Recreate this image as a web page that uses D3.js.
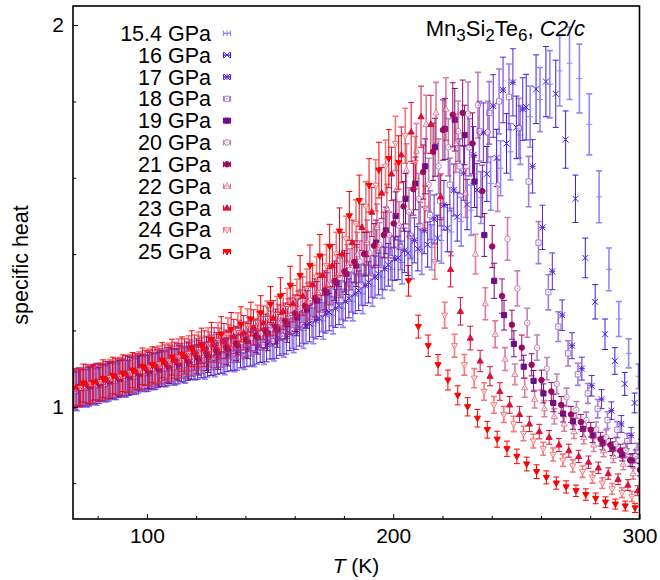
<!DOCTYPE html>
<html>
<head>
<meta charset="utf-8">
<script src="https://cdn.jsdelivr.net/npm/d3@7"></script>
<style>
  body { margin: 0; background: #fff; }
  svg { font-family: "Liberation Sans", Arial, sans-serif; }
</style>
</head>
<body>
<svg id="chart" width="660" height="580"></svg>
<script>
// ---- data ----
const temps = [70,74,78,82,86,90,94,98,102,106,110,114,118,122,126,130,134,138,142,146,
  150,154,158,162,166,170,174,178,182,186,190,194,198,
  202,206,210,214,218,222,226,230,234,238,242,246,250,254,258,262,266,270,274,278,282,286,290,294,298];

// small per-series offset of the temperature grid (K)
const tOffset = [1.6, 0, 2.6, 1.0, 3.0, 0.4, 2.2, 3.4, 1.3, 2.9, 0.2];

const pressures = ["15.4 GPa","16 GPa","17 GPa","18 GPa","19 GPa","20 GPa","21 GPa","22 GPa","23 GPa","24 GPa","25 GPa"];

const cp154 = [1.040,1.048,1.052,1.062,1.066,1.074,1.080,1.086,1.093,1.098,1.104,1.108,1.115,1.118,1.124,1.130,1.137,1.142,1.150,1.156,
  1.165,1.176,1.188,1.200,1.212,1.225,1.240,1.258,1.276,1.296,1.316,1.338,1.360,
  1.378,1.392,1.405,1.418,1.436,1.458,1.485,1.515,1.548,1.585,1.625,1.668,1.712,1.760,1.805,1.845,1.880,1.900,1.860,1.740,1.550,1.360,1.230,1.140,1.080];
const cp16 = [1.045,1.050,1.058,1.063,1.070,1.076,1.082,1.090,1.094,1.100,1.106,1.112,1.116,1.122,1.128,1.133,1.140,1.146,1.152,1.160,
  1.170,1.180,1.193,1.206,1.218,1.232,1.248,1.265,1.284,1.304,1.326,1.348,1.372,
  1.390,1.402,1.414,1.425,1.442,1.468,1.498,1.530,1.568,1.610,1.652,1.690,1.732,1.785,1.832,1.852,1.820,1.700,1.545,1.390,1.275,1.190,1.120,1.060,1.010];
const cp17 = [1.048,1.052,1.056,1.064,1.072,1.076,1.084,1.088,1.096,1.102,1.106,1.114,1.118,1.124,1.130,1.136,1.142,1.150,1.156,1.163,
  1.172,1.184,1.197,1.212,1.226,1.242,1.258,1.276,1.296,1.318,1.340,1.362,1.388,
  1.410,1.436,1.462,1.492,1.528,1.568,1.612,1.660,1.718,1.788,1.830,1.850,1.780,1.630,1.470,1.355,1.240,1.160,1.100,1.055,1.020,0.990,0.955,0.925,0.895];
const cp18 = [1.042,1.050,1.056,1.060,1.068,1.074,1.080,1.088,1.092,1.100,1.104,1.110,1.117,1.122,1.128,1.134,1.140,1.148,1.154,1.162,
  1.172,1.185,1.200,1.214,1.230,1.246,1.262,1.280,1.300,1.320,1.342,1.364,1.390,
  1.418,1.448,1.474,1.502,1.540,1.582,1.630,1.680,1.722,1.770,1.800,1.812,1.730,1.590,1.430,1.300,1.210,1.140,1.085,1.035,0.995,0.965,0.940,0.910,0.885];
const cp19 = [1.050,1.055,1.062,1.068,1.074,1.080,1.088,1.094,1.100,1.108,1.114,1.120,1.128,1.136,1.144,1.152,1.162,1.172,1.182,1.192,
  1.202,1.216,1.234,1.255,1.278,1.300,1.324,1.348,1.370,1.400,1.430,1.462,1.500,
  1.545,1.585,1.630,1.680,1.728,1.752,1.712,1.590,1.450,1.330,1.240,1.165,1.105,1.068,1.035,1.010,0.982,0.962,0.942,0.925,0.905,0.890,0.875,0.860,0.845];
const cp20 = [1.046,1.054,1.060,1.066,1.072,1.080,1.086,1.092,1.100,1.106,1.112,1.120,1.126,1.134,1.142,1.150,1.160,1.170,1.180,1.192,
  1.205,1.220,1.238,1.258,1.278,1.298,1.318,1.338,1.360,1.380,1.402,1.424,1.450,
  1.475,1.510,1.545,1.582,1.630,1.680,1.722,1.768,1.790,1.720,1.580,1.440,1.310,1.220,1.155,1.100,1.060,1.025,0.992,0.965,0.940,0.920,0.902,0.886,0.870];
const cp21 = [1.052,1.056,1.064,1.070,1.076,1.084,1.090,1.096,1.104,1.110,1.118,1.124,1.132,1.140,1.148,1.156,1.166,1.176,1.186,1.198,
  1.210,1.225,1.245,1.265,1.285,1.305,1.330,1.355,1.380,1.400,1.422,1.450,1.480,
  1.525,1.570,1.615,1.668,1.725,1.765,1.770,1.690,1.565,1.420,1.290,1.215,1.155,1.110,1.070,1.040,1.005,0.980,0.960,0.940,0.915,0.900,0.885,0.860,0.835];
const cp22 = [1.048,1.058,1.064,1.072,1.078,1.086,1.092,1.100,1.106,1.114,1.120,1.130,1.140,1.150,1.160,1.170,1.180,1.190,1.204,1.214,
  1.222,1.236,1.255,1.275,1.300,1.320,1.345,1.370,1.400,1.430,1.470,1.520,1.570,
  1.620,1.670,1.740,1.770,1.780,1.690,1.560,1.400,1.270,1.190,1.125,1.085,1.050,1.020,0.995,0.975,0.955,0.935,0.920,0.900,0.885,0.870,0.850,0.825,0.800];
const cp23 = [1.052,1.060,1.066,1.070,1.080,1.086,1.092,1.102,1.108,1.116,1.122,1.132,1.142,1.152,1.162,1.172,1.184,1.194,1.208,1.220,
  1.232,1.250,1.270,1.290,1.320,1.345,1.370,1.400,1.430,1.470,1.510,1.560,1.610,
  1.660,1.720,1.760,1.740,1.550,1.360,1.250,1.180,1.120,1.080,1.040,1.005,0.980,0.955,0.935,0.920,0.900,0.885,0.870,0.855,0.840,0.825,0.810,0.795,0.780];
const cp24 = [1.050,1.060,1.066,1.076,1.080,1.090,1.096,1.104,1.112,1.120,1.130,1.140,1.150,1.162,1.174,1.188,1.200,1.212,1.222,1.232,
  1.242,1.262,1.285,1.310,1.340,1.370,1.400,1.440,1.480,1.525,1.580,1.630,1.690,
  1.710,1.640,1.520,1.380,1.240,1.160,1.110,1.075,1.040,1.005,0.980,0.955,0.930,0.910,0.890,0.875,0.860,0.845,0.830,0.815,0.800,0.785,0.775,0.765,0.755];
const cp25 = [1.048,1.062,1.064,1.074,1.082,1.088,1.096,1.106,1.110,1.122,1.130,1.138,1.152,1.160,1.176,1.190,1.202,1.216,1.230,1.246,
  1.268,1.290,1.318,1.344,1.370,1.395,1.420,1.460,1.500,1.540,1.580,1.620,1.650,
  1.640,1.330,1.210,1.160,1.110,1.070,1.030,1.000,0.970,0.940,0.915,0.890,0.870,0.850,0.830,0.815,0.800,0.790,0.780,0.770,0.760,0.750,0.745,0.740,0.735];

// error bar half-widths
const err154 = [.050,.049,.048,.049,.047,.048,.048,.046,.047,.046,.047,.046,.045,.046,.045,.046,.045,.044,.045,.045,
  .045,.046,.046,.047,.047,.048,.049,.050,.051,.052,.053,.054,.055,
  .056,.057,.058,.059,.060,.062,.064,.066,.068,.070,.072,.074,.077,.080,.084,.088,.092,.095,.090,.080,.068,.056,.046,.038,.032];
const err16 = [.049,.048,.050,.047,.048,.047,.049,.046,.047,.047,.046,.047,.045,.046,.046,.045,.046,.044,.045,.044,
  .045,.045,.046,.047,.048,.048,.049,.050,.051,.052,.054,.055,.056,
  .057,.058,.058,.059,.060,.062,.064,.066,.069,.072,.075,.078,.082,.086,.090,.092,.088,.075,.062,.052,.045,.040,.035,.030,.026];
const err17 = [.048,.050,.047,.049,.048,.046,.048,.047,.046,.047,.046,.045,.046,.046,.045,.044,.046,.045,.044,.045,
  .045,.046,.047,.047,.048,.049,.050,.051,.052,.053,.055,.056,.057,
  .058,.059,.061,.063,.065,.068,.071,.074,.078,.082,.086,.088,.082,.070,.058,.048,.040,.034,.030,.027,.025,.023,.022,.021,.020];
const err18 = [.050,.048,.049,.047,.049,.048,.046,.048,.047,.046,.047,.046,.045,.046,.045,.046,.044,.045,.045,.044,
  .046,.046,.047,.048,.048,.049,.050,.051,.052,.054,.055,.056,.058,
  .059,.060,.062,.064,.066,.069,.072,.075,.078,.082,.085,.086,.078,.066,.055,.046,.039,.033,.029,.026,.024,.022,.021,.020,.019];
const err19 = [.049,.050,.048,.048,.047,.049,.047,.048,.046,.047,.046,.047,.045,.046,.046,.045,.045,.046,.044,.045,
  .046,.047,.048,.049,.050,.051,.052,.054,.055,.057,.059,.061,.063,
  .066,.069,.072,.076,.080,.082,.078,.068,.056,.046,.039,.034,.030,.027,.025,.023,.022,.021,.020,.019,.018,.018,.017,.017,.016];
const err20 = [.048,.049,.050,.047,.048,.047,.048,.046,.048,.046,.047,.045,.046,.047,.045,.046,.044,.045,.046,.044,
  .046,.046,.047,.048,.049,.050,.051,.052,.054,.055,.057,.058,.060,
  .062,.064,.066,.069,.072,.075,.079,.083,.086,.080,.068,.056,.046,.038,.033,.029,.026,.024,.022,.021,.020,.019,.018,.018,.017];
const err21 = [.050,.048,.049,.048,.047,.048,.046,.048,.047,.046,.047,.046,.046,.045,.046,.045,.045,.046,.044,.045,
  .046,.047,.048,.049,.050,.051,.052,.054,.055,.057,.058,.060,.062,
  .065,.068,.071,.075,.079,.084,.086,.080,.068,.055,.045,.038,.033,.029,.026,.024,.022,.021,.020,.019,.018,.017,.017,.016,.016];
const err22 = [.049,.048,.050,.047,.049,.047,.048,.047,.046,.048,.046,.047,.045,.046,.046,.045,.046,.044,.045,.045,
  .046,.047,.048,.049,.050,.052,.053,.055,.057,.059,.061,.063,.066,
  .069,.072,.076,.080,.082,.076,.064,.052,.042,.035,.030,.027,.025,.023,.021,.020,.019,.018,.017,.017,.016,.016,.015,.015,.014];
const err23 = [.048,.050,.048,.049,.047,.048,.047,.046,.048,.046,.047,.046,.046,.047,.045,.046,.045,.045,.046,.044,
  .046,.047,.048,.050,.051,.053,.055,.057,.059,.061,.064,.067,.070,
  .073,.077,.080,.076,.060,.046,.036,.031,.028,.025,.023,.022,.021,.020,.019,.018,.017,.017,.016,.016,.015,.015,.014,.014,.013];
const err24 = [.050,.049,.048,.048,.049,.047,.048,.047,.047,.046,.048,.046,.046,.045,.047,.045,.046,.045,.044,.045,
  .047,.048,.049,.051,.053,.055,.057,.059,.062,.065,.067,.069,.071,
  .072,.068,.058,.046,.034,.030,.027,.025,.023,.022,.021,.020,.019,.018,.017,.017,.016,.016,.015,.015,.014,.014,.013,.013,.012];
const err25 = [.049,.050,.047,.049,.048,.048,.046,.048,.047,.046,.047,.045,.047,.046,.045,.046,.045,.046,.044,.045,
  .047,.048,.050,.052,.054,.056,.058,.061,.064,.067,.070,.073,.076,
  .070,.040,.030,.028,.027,.026,.025,.024,.023,.022,.021,.020,.019,.018,.018,.017,.016,.016,.015,.015,.014,.014,.013,.013,.012];

const xMajor = [100, 200, 300];
const xMinor = [80, 120, 140, 160, 180, 220, 240, 260, 280];
const yMajor = [1, 2];
const yMinor = [0.8, 1.2, 1.4, 1.6, 1.8];

// ---- styles ----
const colors = ["#4a3cf2", "#3a1ee0", "#5a28d2", "#6a28b4", "#6b0f88", "#9a2e90",
                "#9c0c62", "#c8285a", "#dc1038", "#f21c1c", "#ff0000"];
const light = [true, false, false, true, false, true, false, true, false, true, false];
const symbols = ["plus", "cross", "star", "square", "squareFill", "circle",
                 "circleFill", "triangle", "triangleFill", "triDown", "triDownFill"];

const values = [cp154, cp16, cp17, cp18, cp19, cp20, cp21, cp22, cp23, cp24, cp25];
const errors = [err154, err16, err17, err18, err19, err20, err21, err22, err23, err24, err25];

// ---- layout ----
const margin = {top: 6, right: 20.5, bottom: 61, left: 73},
    width = 660 - margin.left - margin.right,
    height = 580 - margin.top - margin.bottom;

const svg = d3.select("#chart");

const x = d3.scaleLinear().domain([70, 300]).range([margin.left, margin.left + width]);
const y = d3.scaleLinear().domain([0.706, 2.05]).range([margin.top + height, margin.top]);

svg.append("defs").append("clipPath").attr("id", "plotClip")
    .append("rect")
    .attr("x", margin.left).attr("y", margin.top)
    .attr("width", width).attr("height", height);

// marker shapes
function markerPath(type) {
    const s = 3;
    switch (type) {
        case "plus": return `M${-s},0H${s}M0,${-s}V${s}`;
        case "cross": return `M${-s},${-s}L${s},${s}M${-s},${s}L${s},${-s}`;
        case "star": return `M${-s},0H${s}M0,${-s}V${s}M${-s},${-s}L${s},${s}M${-s},${s}L${s},${-s}`;
        case "square": case "squareFill": return `M-2.6,-2.6H2.6V2.6H-2.6Z`;
        case "circle": case "circleFill": return d3.symbol(d3.symbolCircle, 24)();
        case "triangle": case "triangleFill": return `M0,-3.3L3.1,2.1H-3.1Z`;
        case "triDown": case "triDownFill": return `M0,3.3L3.1,-2.1H-3.1Z`;
    }
}
const filled = t => t.endsWith("Fill");
const open = t => ["square", "circle", "triangle", "triDown"].includes(t);

function drawMarker(g, type, col) {
    g.append("path")
        .attr("d", markerPath(type))
        .attr("fill", filled(type) ? col : (open(type) ? "#fff" : "none"))
        .attr("stroke", col)
        .attr("stroke-width", 1);
    if (open(type)) {
        g.append("circle").attr("r", 0.7).attr("fill", col);
    }
}

// ---- data marks ----
const plot = svg.append("g").attr("clip-path", "url(#plotClip)");

values.forEach((vals, k) => {
    const col = colors[k];
    const g = plot.append("g").attr("opacity", light[k] ? 0.6 : 1);
    const sw = light[k] ? 1.6 : 1.0;
    const pts = vals.map((v, i) => ({t: temps[i] + tOffset[k], v: v, e: errors[k][i]}));

    g.selectAll("path.bar").data(pts).join("path")
        .attr("class", "bar")
        .attr("d", d => {
            const xx = x(d.t), y1 = y(d.v - d.e), y2 = y(d.v + d.e);
            return `M${xx},${y1}V${y2}M${xx - 3},${y1}H${xx + 3}M${xx - 3},${y2}H${xx + 3}`;
        })
        .attr("fill", "none")
        .attr("stroke", col)
        .attr("stroke-width", sw);

    g.selectAll("g.pt").data(pts).join("g")
        .attr("class", "pt")
        .attr("transform", d => `translate(${x(d.t)},${y(d.v)})`)
        .each(function() { drawMarker(d3.select(this), symbols[k], col); });
});

// ---- axes ----
function styleAxis(g) {
    g.select(".domain").remove();
    g.selectAll("line").attr("stroke", "#000").attr("stroke-width", 1);
    g.selectAll("text").attr("fill", "#000");
    g.attr("font-size", 21).attr("font-family", "'Liberation Sans', Arial, sans-serif");
}

svg.append("g")
    .attr("transform", `translate(0,${margin.top + height})`)
    .call(d3.axisBottom(x).tickValues(xMajor).tickSize(-5).tickPadding(9).tickFormat(d3.format("d")))
    .call(styleAxis);
svg.append("g")
    .attr("transform", `translate(0,${margin.top + height})`)
    .call(d3.axisBottom(x).tickValues(xMinor).tickSize(-3).tickFormat(""))
    .call(styleAxis);
svg.append("g")
    .attr("transform", `translate(${margin.left},0)`)
    .call(d3.axisLeft(y).tickValues(yMajor).tickSize(-5).tickPadding(9).tickFormat(d3.format("d")))
    .call(styleAxis);
svg.append("g")
    .attr("transform", `translate(${margin.left},0)`)
    .call(d3.axisLeft(y).tickValues(yMinor).tickSize(-3).tickFormat(""))
    .call(styleAxis);

// frame
svg.append("rect")
    .attr("x", margin.left).attr("y", margin.top)
    .attr("width", width).attr("height", height)
    .attr("fill", "none").attr("stroke", "#000").attr("stroke-width", 1.6);

// axis titles
const xl = svg.append("text")
    .attr("x", 356).attr("y", 573)
    .attr("text-anchor", "middle").attr("font-size", 21);
xl.append("tspan").attr("font-style", "italic").text("T");
xl.append("tspan").text(" (K)");

svg.append("text")
    .attr("transform", "translate(28,265) rotate(-90)")
    .attr("text-anchor", "middle").attr("font-size", 21.5)
    .text("specific heat");

// compound label
const title = svg.append("text")
    .attr("x", 585).attr("y", 36)
    .attr("text-anchor", "end").attr("font-size", 22);
title.append("tspan").text("Mn");
title.append("tspan").attr("dy", 5).attr("font-size", 17).text("3");
title.append("tspan").attr("dy", -5).text("Si");
title.append("tspan").attr("dy", 5).attr("font-size", 17).text("2");
title.append("tspan").attr("dy", -5).text("Te");
title.append("tspan").attr("dy", 5).attr("font-size", 17).text("6");
title.append("tspan").attr("dy", -5).text(", ");
title.append("tspan").attr("font-style", "italic").text("C2/c");

// ---- legend ----
const legend = svg.append("g");
pressures.forEach((p, k) => {
    const ly = 33.3 + k * 21.84;
    legend.append("text")
        .attr("x", 211).attr("y", ly).attr("dy", "0.35em")
        .attr("text-anchor", "end").attr("font-size", 21.5)
        .text(p);
    const g = legend.append("g")
        .attr("transform", `translate(227,${ly})`)
        .attr("opacity", light[k] ? 0.6 : 1);
    g.append("path")
        .attr("d", "M-3.5,-2.8V2.8M3.5,-2.8V2.8M-3.5,0H3.5")
        .attr("fill", "none").attr("stroke", colors[k]).attr("stroke-width", 1.2);
    drawMarker(g, symbols[k], colors[k]);
});
</script>
</body>
</html>
